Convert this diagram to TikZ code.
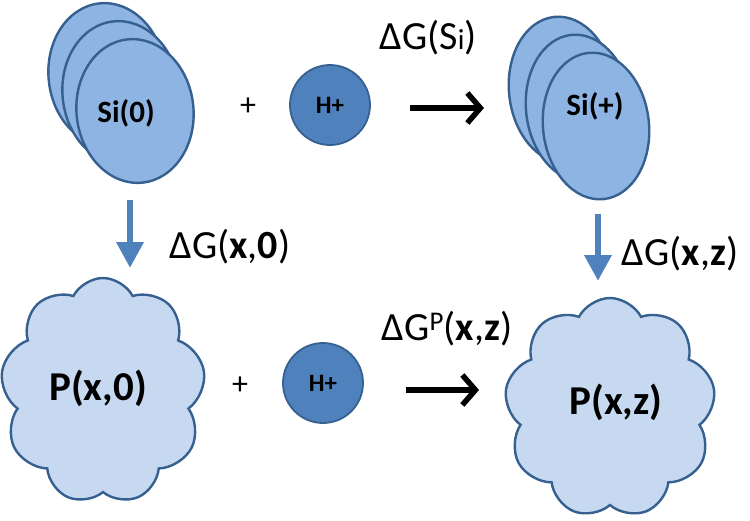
\documentclass[tikz,border=0pt]{standalone}
\usepackage{fontspec}
\setmainfont{Carlito}
\usetikzlibrary{shapes.geometric,shapes.symbols,arrows.meta}
\definecolor{ellfill}{HTML}{8EB4E3}
\definecolor{edge}{HTML}{35608F}
\definecolor{hfill}{HTML}{4F81BD}
\definecolor{cloudfill}{HTML}{C6D9F1}
\definecolor{bluearrow}{HTML}{4F81BD}
\tikzset{
  disc/.style={ellipse,draw=edge,fill=ellfill,line width=2.4pt,inner sep=0pt,rotate=6},
  hion/.style={circle,draw=edge,fill=hfill,line width=1.8pt,inner sep=0pt,minimum size=80pt,
     font=\fontsize{25}{28}\selectfont\bfseries},
  puff/.style={cloud,cloud puffs=9,cloud puff arc=125,cloud ignores aspect,draw=edge,fill=cloudfill,
     line width=2.4pt,inner sep=0pt},
  lbl/.style={font=\fontsize{40}{44}\selectfont,inner sep=0pt},
  big/.style={font=\fontsize{41}{44}\selectfont\bfseries,inner sep=0pt},
  mid/.style={font=\fontsize{31}{34}\selectfont\bfseries,inner sep=0pt},
  plus/.style={font=\fontsize{32}{34}\selectfont,inner sep=0pt},
  blk/.style={line width=5.5pt,-{Straight Barb[length=13pt,width=30pt]}},
  blu/.style={draw=bluearrow,line width=6.5pt,-{Triangle[length=26pt,width=26pt]},color=bluearrow},
}
\begin{document}
\begin{tikzpicture}[x=1pt,y=-1pt]
\useasboundingbox (0,0) rectangle (750,520);
% Si(0) stack
\node[disc,minimum width=117pt,minimum height=144pt] (a3) at (107,75) {};
\node[disc,minimum width=117pt,minimum height=144pt] (a2) at (121,93) {};
\node[disc,minimum width=117pt,minimum height=144pt] (a1) at (135,111) {};
\node[mid] (ta) at (126,113) {Si(0)};
% Si(+) stack
\node[disc,minimum width=106pt,minimum height=147pt] (b3) at (562,90) {};
\node[disc,minimum width=106pt,minimum height=147pt] (b2) at (579,108) {};
\node[disc,minimum width=106pt,minimum height=147pt] (b1) at (596,126) {};
\node[mid] (tb) at (595,106) {Si(+)};
% H+ ions
\node[hion] (h1) at (330,105) {H+};
\node[hion] (h2) at (323,383) {H+};
\node[plus] (p1) at (248,107) {+};
\node[plus] (p2) at (240,386) {+};
% clouds
\node[puff,minimum width=205pt,minimum height=226pt] (c1) at (103,391) {};
\node[big] (tc1) at (98,388) {P(x,0)};
\node[puff,minimum width=211pt,minimum height=220pt] (c2) at (610,408) {};
\node[big] (tc2) at (616,402) {P(x,z)};
% labels
\node[lbl] (g1) at (428,38) {ΔG(S{\fontsize{29}{32}\selectfont i})};
\node[lbl] (g2) at (230,247) {ΔG(\textbf{x},\textbf{0})};
\node[lbl] (g3) at (680,254) {ΔG(\textbf{x},\textbf{z})};
\node[lbl] (g4) at (447,329) {ΔG\raisebox{0.55ex}{\fontsize{27}{30}\selectfont P}(\textbf{x},\textbf{z})};
% arrows
\coordinate (k1s) at (410,108); \coordinate (k1e) at (484,108);
\coordinate (k2s) at (406,390); \coordinate (k2e) at (479,390);
\draw[blk] (k1s) -- (k1e);
\draw[blk] (k2s) -- (k2e);
\coordinate (v1s) at (130,200); \coordinate (v1e) at (130,268);
\coordinate (v2s) at (598,214); \coordinate (v2e) at (598,281);
\draw[blu] (v1s) -- (v1e);
\draw[blu] (v2s) -- (v2e);
\end{tikzpicture}
\end{document}
